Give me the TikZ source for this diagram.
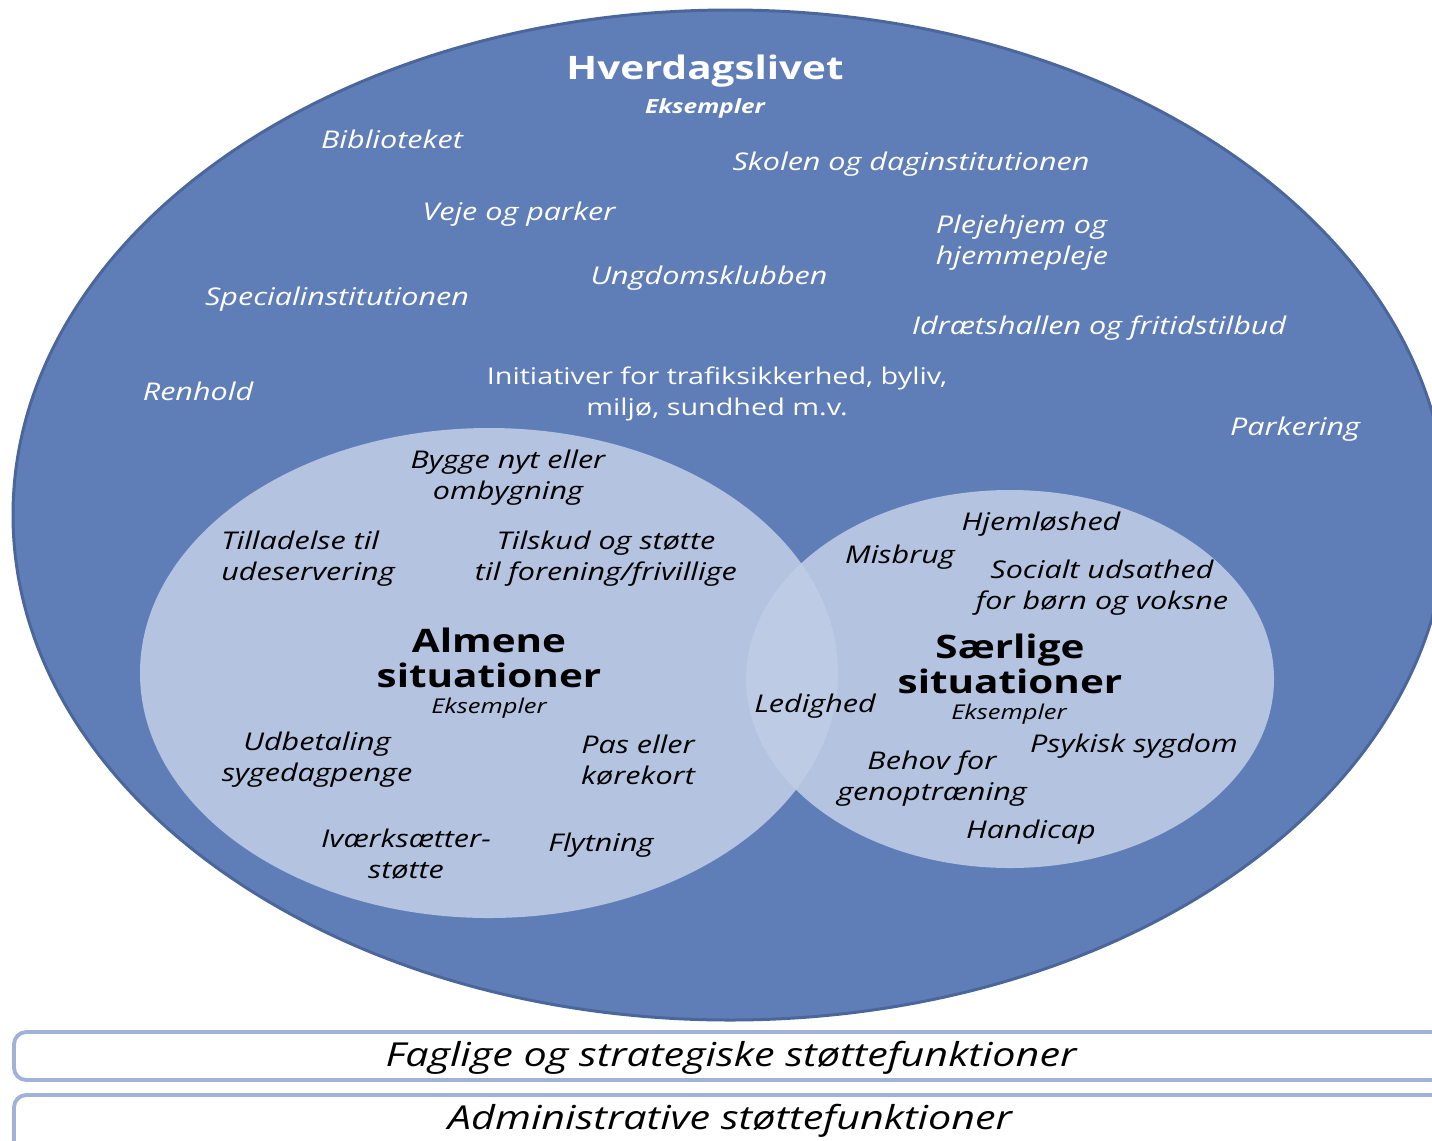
\documentclass[tikz,border=0pt]{standalone}
\usepackage{fontspec}
\setmainfont{Open Sans}[FakeStretch=1.25]
\usetikzlibrary{positioning}

\definecolor{dailyblue}{HTML}{5F7EB8}
\definecolor{dailyline}{HTML}{4B669B}
\definecolor{sitblue}{HTML}{B3C3E0}
\definecolor{boxline}{HTML}{A0B2D8}

\begin{document}
\begin{tikzpicture}[x=0.02cm,y=-0.02cm,
  every node/.style={inner sep=0pt},
  daily/.style={text=white,font=\itshape\fontsize{13.9}{17.6}\selectfont,align=center},
  sit/.style={text=black,font=\itshape\fontsize{13.9}{17.6}\selectfont,align=center},
  bigtitle/.style={font=\bfseries\fontsize{18.4}{19.8}\selectfont,align=center},
  ex/.style={font=\itshape\fontsize{11.6}{14}\selectfont},
  support/.style={draw=boxline,line width=2.2pt,fill=white,rounded corners=7pt}]
\useasboundingbox (0,0) rectangle (1432,1140);
\clip (0,0) rectangle (1432,1140);

% everyday life
\path[fill=dailyblue,draw=dailyline,line width=1.7pt] (730,515) circle [x radius=717,y radius=505];

% the two kinds of situations
\path[fill=sitblue] (489,673) circle [x radius=349,y radius=245];
\path[fill=sitblue] (1010,679) circle [x radius=264,y radius=189];
\begin{scope}
  \clip (489,673) circle [x radius=349,y radius=245];
  \path[fill=white,fill opacity=0.14] (1010,679) circle [x radius=264,y radius=189];
\end{scope}

% support boxes
\path[support] (14,1032) rectangle (1470,1080);
\path[support] (14,1095) rectangle (1470,1170);

\node[text=white,font=\bfseries\fontsize{18.4}{22}\selectfont] (daily) at (705,71) {Hverdagslivet};
\node[text=white,font=\bfseries\itshape\fontsize{11.1}{14}\selectfont] (dailyex) at (705,108) {Eksempler};

\node[daily] (bib) at (392,139) {Biblioteket};
\node[daily] (skole) at (911,164) {Skolen og daginstitutionen};
\node[daily] (veje) at (519,214) {Veje og parker};
\node[daily,align=left] (pleje) at (1022,243) {Plejehjem og\\hjemmepleje};
\node[daily] (ungdom) at (709,278) {Ungdomsklubben};
\node[daily] (special) at (337,299) {Specialinstitutionen};
\node[daily] (idraet) at (1099,328) {Idrætshallen og fritidstilbud};
\node[daily] (renhold) at (198,391) {Renhold};
\node[daily,font=\fontsize{13.1}{17.6}\selectfont] (initiativ) at (717,394) {Initiativer for trafiksikkerhed, byliv,\\miljø, sundhed m.v.};
\node[daily] (parkering) at (1295,429) {Parkering};

% almene
\node[sit] (bygge) at (508,478) {Bygge nyt eller\\ombygning};
\node[sit,align=left] (tilladelse) at (308,559) {Tilladelse til\\udeservering};
\node[sit] (tilskud) at (606,559) {Tilskud og støtte\\til forening/frivillige};
\node[bigtitle] (almene) at (489,658) {Almene\\situationer};
\node[ex] (almex) at (489,708) {Eksempler};
\node[sit] (udbetaling) at (317,760) {Udbetaling\\sygedagpenge};
\node[sit] (pas) at (638,760) {Pas eller\\kørekort};
\node[sit] (ivaerk) at (406,854) {Iværksætter-\\støtte};
\node[sit] (flytning) at (601,845) {Flytning};
\node[sit] (ledighed) at (815,706) {Ledighed};

% saerlige
\node[sit] (hjemlos) at (1041,524) {Hjemløshed};
\node[sit] (misbrug) at (900,557) {Misbrug};
\node[sit] (udsat) at (1102,588) {Socialt udsathed\\for børn og voksne};
\node[bigtitle] (saerlige) at (1010,664) {Særlige\\situationer};
\node[ex] (saerex) at (1009,714) {Eksempler};
\node[sit] (psykisk) at (1134,746) {Psykisk sygdom};
\node[sit] (behov) at (932,779) {Behov for\\genoptræning};
\node[sit] (handicap) at (1031,832) {Handicap};

\node[font=\itshape\fontsize{18.8}{22}\selectfont] (faglige) at (731,1058) {Faglige og strategiske støttefunktioner};
\node[font=\itshape\fontsize{18.8}{22}\selectfont] (admin) at (730,1121) {Administrative støttefunktioner};
\end{tikzpicture}
\end{document}
